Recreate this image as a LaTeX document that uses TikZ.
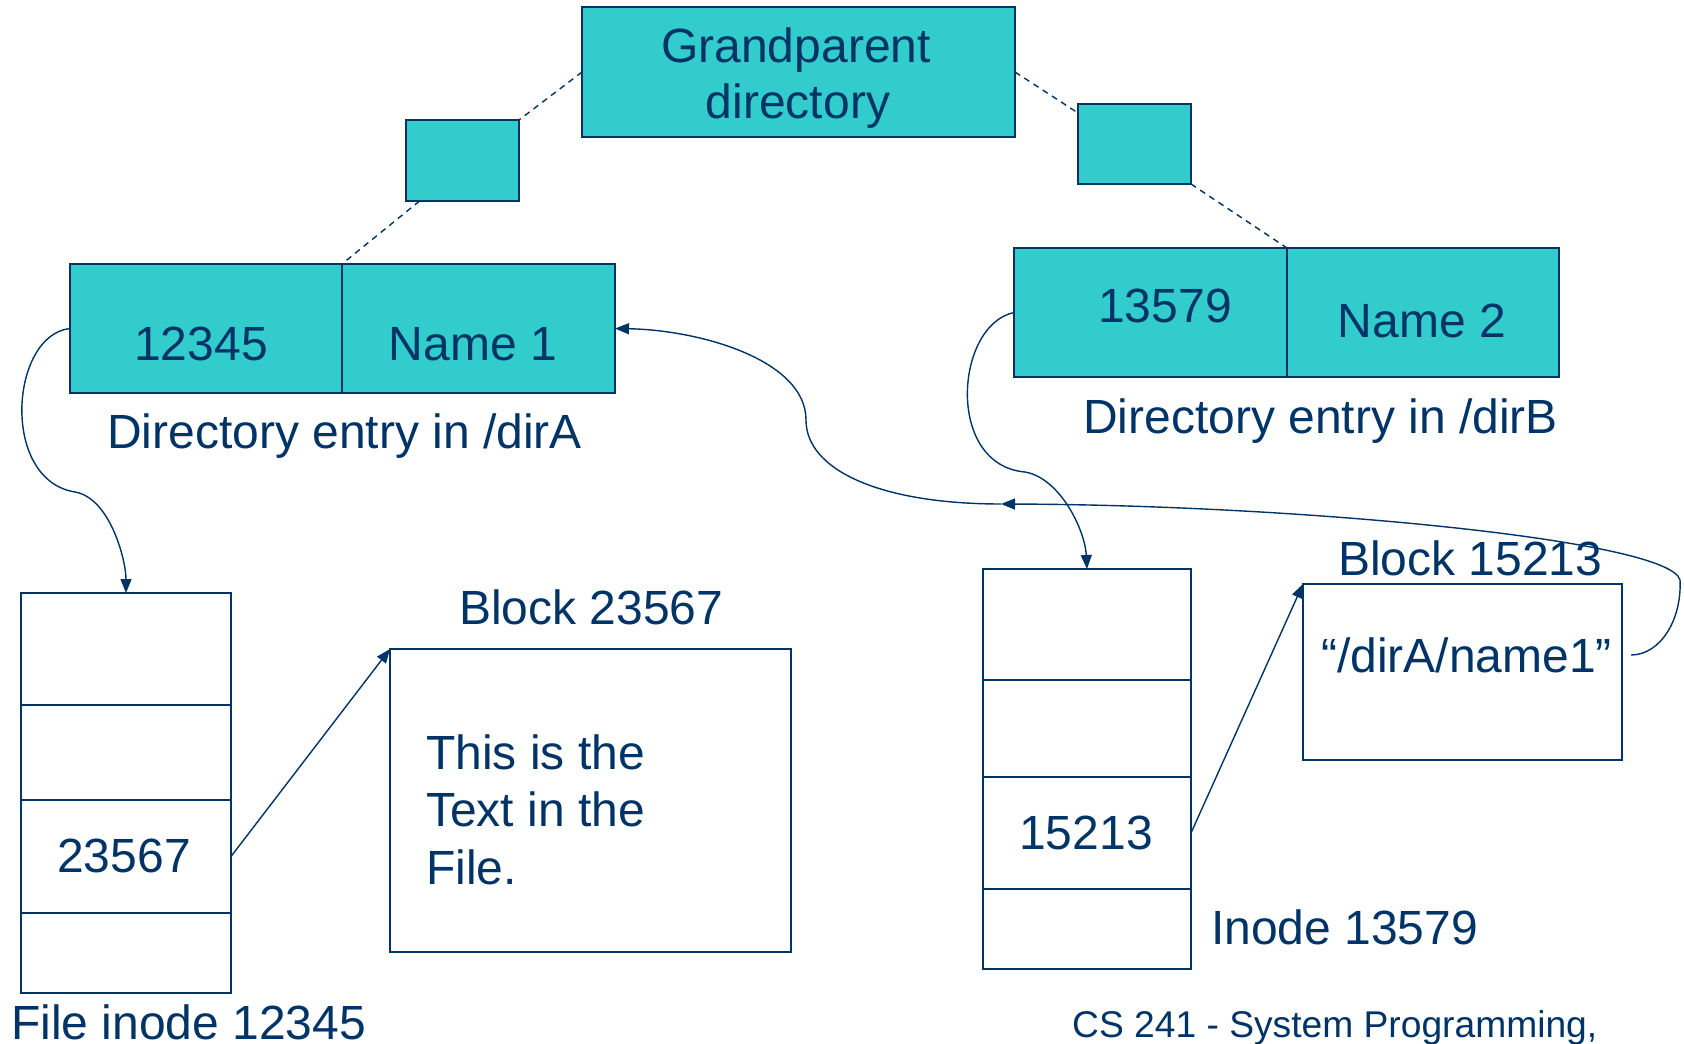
\documentclass[tikz,border=0pt]{standalone}
\usepackage{fontspec}
\setmainfont{Liberation Sans}
\usetikzlibrary{arrows.meta,calc}
\definecolor{navy}{HTML}{003366}
\definecolor{teal}{HTML}{33CCCC}
\tikzset{
  box/.style={draw=navy, line width=1.8pt, rectangle, inner sep=0pt, outer sep=0pt, anchor=north west},
  filled/.style={box, fill=teal},
  big/.style={text=navy, inner sep=0pt, font=\fontsize{48}{57.5}\selectfont},
  small/.style={text=navy, inner sep=0pt, font=\fontsize{37.2}{44}\selectfont},
  link/.style={draw=navy, line width=1.4pt},
  tree/.style={link, dash pattern=on 6pt off 5pt},
  ptr/.style={link, -{Triangle[length=14pt,width=11pt]}}
}
\begin{document}
\begin{tikzpicture}[x=1pt,y=-1pt]
\useasboundingbox (0,0) rectangle (1684,1044);

% directory tree
\node[filled, minimum width=433pt, minimum height=130pt] (gp) at (582,7) {};
\node[big, anchor=base] (gpt1) at (796,62) {Grandparent};
\node[big, anchor=base] (gpt2) at (798,118) {directory};
\node[filled, minimum width=113pt, minimum height=81pt] (sqA) at (406,120) {};
\node[filled, minimum width=113pt, minimum height=80pt] (sqB) at (1078,104) {};

% directory entries
\node[filled, minimum width=272pt, minimum height=129pt] (a1) at (70,264) {};
\node[filled, minimum width=273pt, minimum height=129pt] (a2) at (342,264) {};
\node[filled, minimum width=273pt, minimum height=129pt] (b1) at (1014,248) {};
\node[filled, minimum width=272pt, minimum height=129pt] (b2) at (1287,248) {};

\node[big, anchor=base] (a1t) at (201,360) {12345};
\node[big, anchor=base] (a2t) at (473,360) {Name 1};
\node[big, anchor=base] (b1t) at (1165,322) {13579};
\node[big, anchor=base] (b2t) at (1422,337) {Name 2};
\node[big, anchor=base west] (dirA) at (107,448) {Directory entry in /dirA};
\node[big, anchor=base west] (dirB) at (1083,433) {Directory entry in /dirB};

% file inode 12345
\node[box, minimum width=210pt, minimum height=112pt] (ia1) at (21,593) {};
\node[box, minimum width=210pt, minimum height=95pt] (ia2) at (21,705) {};
\node[box, minimum width=210pt, minimum height=113pt] (ia3) at (21,800) {};
\node[box, minimum width=210pt, minimum height=80pt] (ia4) at (21,913) {};
\node[big, anchor=base] (ia3t) at (124,872) {23567};
\node[big, anchor=base west] (iaLab) at (11,1039) {File inode 12345};

% block 23567
\node[box, minimum width=401pt, minimum height=303pt] (blkA) at (390,649) {};
\node[big, anchor=base west] (blkAlab) at (459,624) {Block 23567};
\node[big, anchor=base west] (txt1) at (426,769) {This is the};
\node[big, anchor=base west] (txt2) at (426,826) {Text in the};
\node[big, anchor=base west] (txt3) at (426,884) {File.};

% inode 13579
\node[box, minimum width=208pt, minimum height=111pt] (ib1) at (983,569) {};
\node[box, minimum width=208pt, minimum height=97pt] (ib2) at (983,680) {};
\node[box, minimum width=208pt, minimum height=112pt] (ib3) at (983,777) {};
\node[box, minimum width=208pt, minimum height=80pt] (ib4) at (983,889) {};
\node[big, anchor=base] (ib3t) at (1086,849) {15213};
\node[big, anchor=base west] (ibLab) at (1211,944) {Inode 13579};

% block 15213
\node[box, minimum width=319pt, minimum height=176pt] (blkB) at (1303,584) {};
\node[big, anchor=base west] (blkBlab) at (1338,575) {Block 15213};
\node[big, anchor=base west] (path) at (1321,672) {“/dirA/name1”};

\node[small, anchor=base west] (foot) at (1072,1037) {CS 241 - System Programming,};

% tree links
\draw[tree] (gp.west) -- (sqA.north east);
\draw[tree] ($(sqA.south west)!0.12!(sqA.south east)$) -- (a1.north east);
\draw[tree] (gp.east) -- ($(sqB.north west)+(0,9)$);
\draw[tree] (sqB.south east) -- (b1.north east);

% inode pointers
\draw[ptr] (a1.west) .. controls (10,335) and (0,480) .. (75,492)
  .. controls (110,498) and (126,560) .. (ia1.north);
\draw[ptr] (b1.west) .. controls (955,325) and (945,465) .. (1025,472)
  .. controls (1060,478) and (1085,530) .. (ib1.north);

% block pointers
\draw[ptr] (ia3.east) -- (blkA.north west);
\draw[ptr] (ib3.east) -- (blkB.north west);

% symbolic link target
\coordinate (lnk) at (1631,655);
\coordinate (mid) at (1001,504);
\draw[ptr] (lnk) .. controls (1660,655) and (1682,620) .. (1680,580)
  .. controls (1670,540) and (1300,505) .. (mid);
\draw[ptr] (mid) .. controls (880,504) and (806,470) .. (806,420)
  .. controls (806,360) and (700,330) .. (a2.east);
\end{tikzpicture}
\end{document}
